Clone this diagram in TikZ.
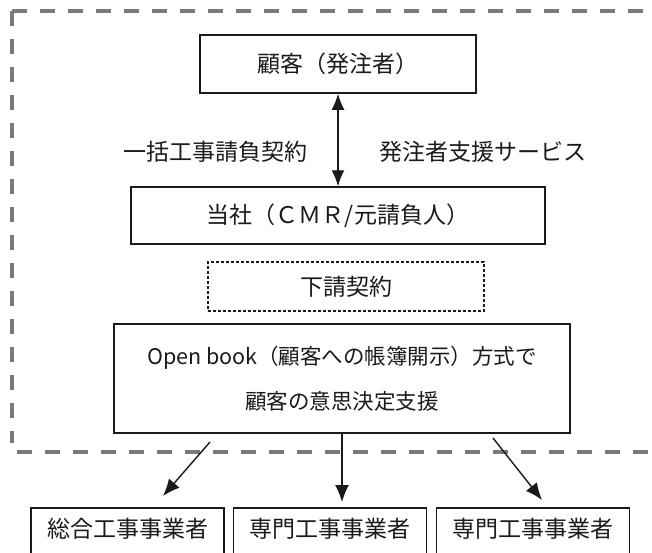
\documentclass[tikz,border=0pt]{standalone}
\usepackage{fontspec}
\setmainfont{Noto Sans CJK JP}
\usetikzlibrary{arrows.meta}
\definecolor{framegray}{HTML}{7A7A7A}
\definecolor{ink}{HTML}{1A1A1A}
\begin{document}
\begin{tikzpicture}[x=1pt,y=-1pt,
  every node/.style={font=\fontsize{23}{27}\selectfont, text=ink},
  box/.style={draw=ink, line width=1.5pt, inner sep=0pt},
  subbox/.style={draw=ink, line width=1.1pt, dash pattern=on 3pt off 2pt, inner sep=0pt},
  frameline/.style={draw=framegray, line width=3.6pt, dash pattern=on 15pt off 13pt},
  arr/.style={draw=ink, line width=1.4pt, -{Latex[length=17pt,width=14pt]}},
  darr/.style={draw=ink, line width=1.4pt, {Latex[length=16pt,width=13pt]}-{Latex[length=16pt,width=13pt]}},
  lowbox/.style={box, anchor=north, minimum width=193pt, text height=30pt, text depth=60pt}
]
\useasboundingbox (0,0) rectangle (652,552);
\clip (0,0) rectangle (652,552);
\fill[white] (0,0) rectangle (652,552);

% dashed frame
\coordinate (ftl) at (12,11);
\coordinate (ftr) at (700,11);
\coordinate (flb) at (12,443);
\coordinate (fbl) at (17,452);
\coordinate (fbr) at (700,452);
\draw[frameline] (ftl) -- (ftr);
\draw[frameline] (ftl) -- (flb);
\draw[frameline] (fbl) -- (fbr);

% nodes
\node[box, minimum width=276pt, minimum height=58pt] (client) at (338,64) {顧客（発注者）};
\node[box, minimum width=414pt, minimum height=57pt] (cmr) at (338,215.5) {当社（ＣＭＲ/元請負人）};
\node[subbox, minimum width=276pt, minimum height=49pt] (sub) at (346,286.5) {下請契約};
\node[box, minimum width=456pt, minimum height=109pt, align=center,
      font=\fontsize{21.5}{45}\selectfont] (ob) at (342,378.5)
      {Open book（顧客への帳簿開示）方式で\\顧客の意思決定支援};

\node[lowbox] (b1) at (127.5,507) {総合工事事業者};
\node[lowbox] (b2) at (330,507) {専門工事事業者};
\node[lowbox] (b3) at (533,507) {専門工事事業者};

% labels
\node (l1) at (215.5,152) {一括工事請負契約};
\node (l2) at (483,152) {発注者支援サービス};

% connectors
\draw[darr] (client.south) -- (cmr.north);

\coordinate (s1) at (210,442);
\coordinate (t1) at (163,496);
\coordinate (s3) at (493,438);
\coordinate (t3) at (542,500);
\draw[arr] (s1) -- (t1);
\draw[arr, shorten >=5pt] (ob.south) -- (ob.south |- b2.north);
\draw[arr] (s3) -- (t3);
\end{tikzpicture}
\end{document}
